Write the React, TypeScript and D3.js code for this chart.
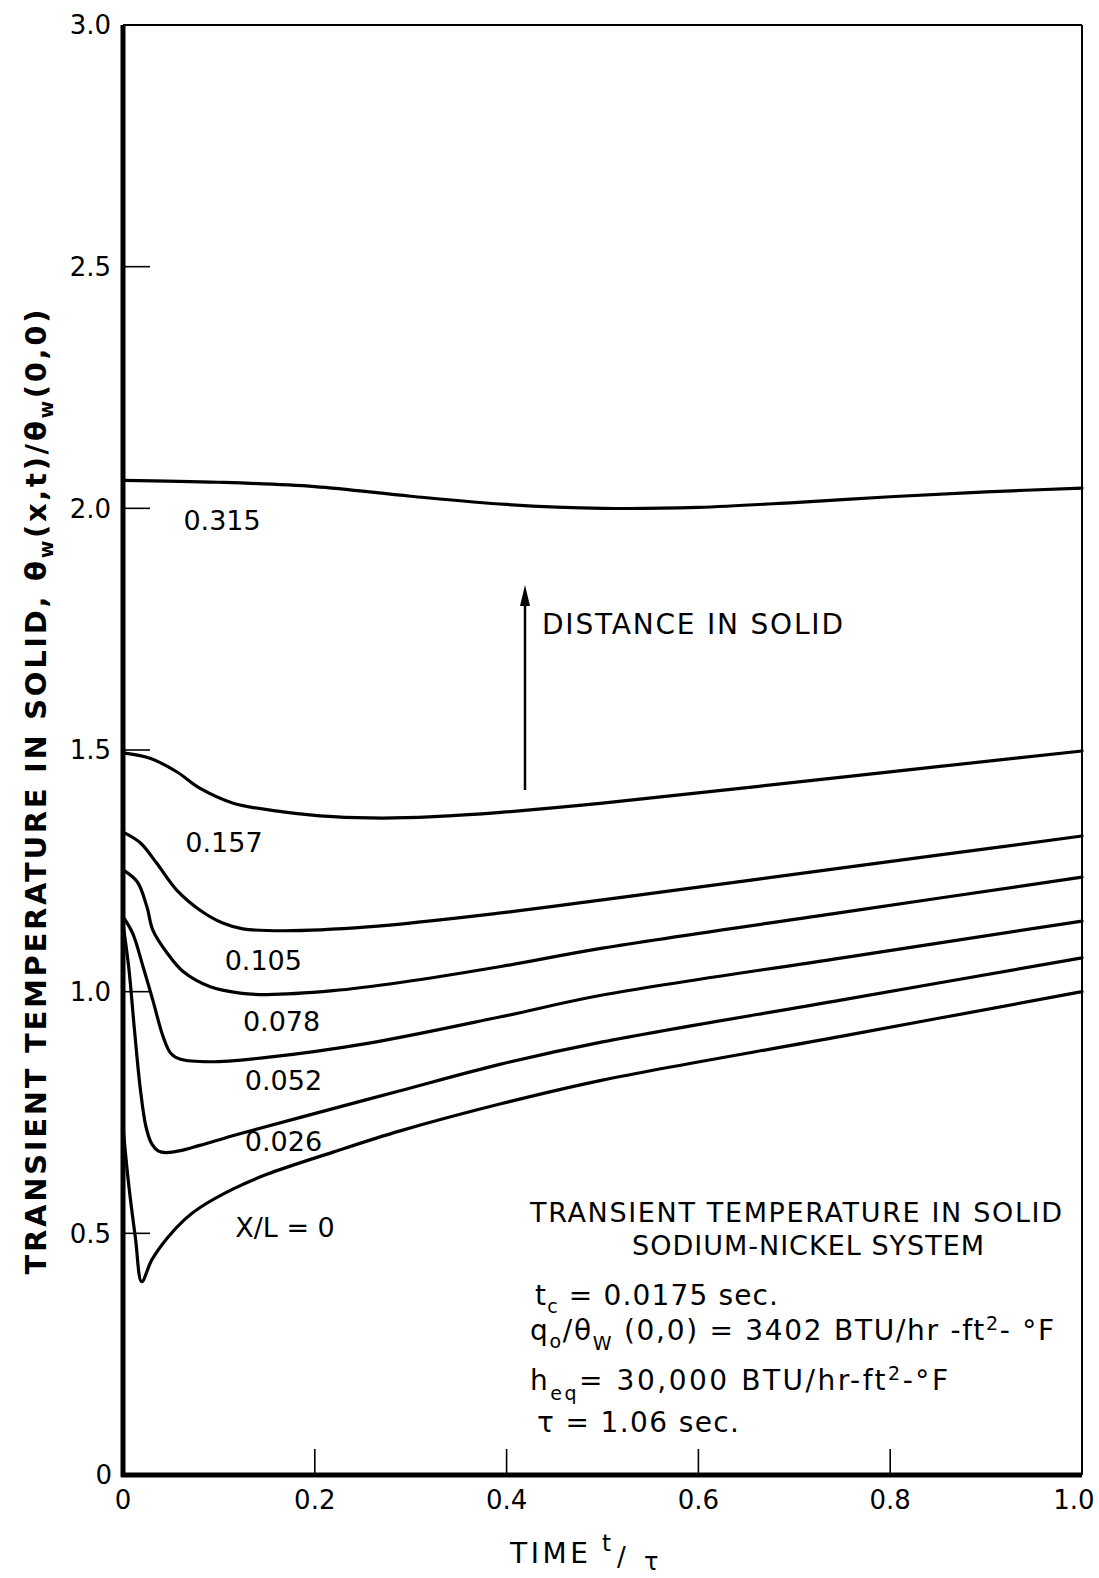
import React from "react";
import * as d3 from "d3";

// curves: [t/tau, theta_w(x,t)/theta_w(0,0)]
const curve0315: [number, number][] = [[0,2.058],[0.1,2.054],[0.2,2.045],[0.3,2.025],[0.4,2.008],[0.5,2.0],[0.6,2.002],[0.7,2.012],[0.8,2.024],[0.9,2.034],[1.0,2.042]];
const curve0157: [number, number][] = [[0,1.494],[0.028,1.483],[0.056,1.455],[0.08,1.421],[0.115,1.39],[0.167,1.372],[0.219,1.362],[0.271,1.359],[0.324,1.362],[0.394,1.371],[0.5,1.39],[0.75,1.444],[1.0,1.498]];
const curve0105: [number, number][] = [[0,1.33],[0.018,1.308],[0.035,1.266],[0.056,1.21],[0.08,1.169],[0.104,1.142],[0.125,1.13],[0.167,1.126],[0.255,1.134],[0.394,1.163],[0.5,1.19],[0.75,1.256],[1.0,1.322]];
const curve0078: [number, number][] = [[0,1.252],[0.015,1.227],[0.025,1.175],[0.031,1.128],[0.046,1.08],[0.063,1.041],[0.091,1.01],[0.122,0.997],[0.15,0.994],[0.219,1.002],[0.289,1.019],[0.394,1.052],[0.5,1.09],[0.75,1.164],[1.0,1.237]];
const curve0052: [number, number][] = [[0,1.155],[0.01,1.121],[0.021,1.051],[0.031,0.983],[0.042,0.906],[0.05,0.872],[0.06,0.86],[0.091,0.855],[0.15,0.864],[0.255,0.893],[0.394,0.948],[0.5,0.993],[0.75,1.07],[1.0,1.146]];
const curve0026: [number, number][] = [[0,1.14],[0.006,1.05],[0.012,0.92],[0.018,0.8],[0.024,0.72],[0.03,0.685],[0.037,0.67],[0.045,0.667],[0.06,0.671],[0.08,0.682],[0.12,0.705],[0.185,0.74],[0.289,0.795],[0.394,0.85],[0.5,0.896],[0.75,0.983],[1.0,1.07]];
const curve0: [number, number][] = [[0,0.72],[0.006,0.6],[0.013,0.49],[0.0195,0.4],[0.03,0.445],[0.046,0.49],[0.065,0.53],[0.08,0.553],[0.115,0.592],[0.15,0.622],[0.219,0.668],[0.289,0.712],[0.394,0.768],[0.5,0.817],[0.75,0.908],[1.0,1.0]];

const curves = [curve0315, curve0157, curve0105, curve0078, curve0052, curve0026, curve0];

// curve labels: text, t at left edge, value at baseline
const curveLabels: [string, number, number][] = [
  ["0.315", 0.063, 1.955],
  ["0.157", 0.065, 1.289],
  ["0.105", 0.106, 1.045],
  ["0.078", 0.125, 0.919],
  ["0.052", 0.127, 0.797],
  ["0.026", 0.127, 0.67],
  ["X/L = 0", 0.117, 0.492],
];

const xTicks = [0.2, 0.4, 0.6, 0.8];
const xTickLabels = [0, 0.2, 0.4, 0.6, 0.8, 1.0];
const yTicks = [0.5, 1.0, 1.5, 2.0, 2.5];
const yTickLabels = [0, 0.5, 1.0, 1.5, 2.0, 2.5, 3.0];

const W = 1099, H = 1578;
const FONT = "'DejaVu Sans', sans-serif";

export default function App() {
  const x = d3.scaleLinear().domain([0, 1]).range([123, 1082]);
  const y = d3.scaleLinear().domain([0, 3]).range([1475, 25]);
  const line = d3.line<[number, number]>()
    .x(d => x(d[0]))
    .y(d => y(d[1]))
    .curve(d3.curveCatmullRom.alpha(0.5));

  const fmt = (v: number) => (v === 0 ? "0" : v.toFixed(1));

  return (
    <svg width={W} height={H} style={{ position: "absolute", left: 0, top: 0, background: "#fff" }}
      fontFamily={FONT}>
      {/* frame */}
      <line x1={x(0)} x2={x(1)} y1={y(3)} y2={y(3)} stroke="#000" strokeWidth={2} />
      <line x1={x(1)} x2={x(1)} y1={y(3)} y2={y(0)} stroke="#000" strokeWidth={2} />
      <line x1={x(0)} x2={x(0)} y1={y(3)} y2={y(0) + 2} stroke="#000" strokeWidth={5} />
      <line x1={x(0) - 2} x2={x(1)} y1={y(0)} y2={y(0)} stroke="#000" strokeWidth={5} />

      {yTicks.map(v => (
        <line key={"yt" + v} x1={x(0)} x2={x(0) + 27} y1={y(v)} y2={y(v)} stroke="#000" strokeWidth={1.6} />
      ))}
      {xTicks.map(v => (
        <line key={"xt" + v} x1={x(v)} x2={x(v)} y1={y(0)} y2={y(0) - 26} stroke="#000" strokeWidth={1.6} />
      ))}

      {yTickLabels.map(v => (
        <text key={"yl" + v} x={v === 0 ? 112 : 111} y={y(v)} dy="0.36em" textAnchor="end" fontSize={26}>
          {fmt(v)}
        </text>
      ))}
      {xTickLabels.map(v => (
        <text key={"xl" + v} x={x(v) + (v === 1 ? -8 : 0)} y={1500} dy="0.36em" textAnchor="middle" fontSize={26}>
          {fmt(v)}
        </text>
      ))}

      {curves.map((c, i) => (
        <path key={"c" + i} d={line(c) || ""} fill="none" stroke="#000" strokeWidth={3.2}
          strokeLinejoin="round" strokeLinecap="round" />
      ))}

      {curveLabels.map(([t, tv, vv]) => (
        <text key={t} x={x(tv)} y={y(vv)} fontSize={27}>{t}</text>
      ))}

      {/* distance arrow */}
      <line x1={525} x2={525} y1={790} y2={600} stroke="#000" strokeWidth={2.5} />
      <path d="M525,585 L520,606 L530,606 Z" fill="#000" />
      <text x={542} y={634} fontSize={28} textLength={301} lengthAdjust="spacing">DISTANCE IN SOLID</text>

      {/* y title */}
      <text transform="translate(46,792) rotate(-90)" textAnchor="middle" fontSize={29} fontWeight="bold"
        textLength={965} lengthAdjust="spacing">
        TRANSIENT TEMPERATURE IN SOLID, θ<tspan dy={7} fontSize={19}>w</tspan>
        <tspan dy={-7}>(x,t)/θ</tspan><tspan dy={7} fontSize={19}>w</tspan><tspan dy={-7}>(0,0)</tspan>
      </text>

      {/* x title */}
      <text x={510} y={1563} fontSize={28} textLength={78} lengthAdjust="spacing">TIME</text>
      <text x={602} y={1551} fontSize={23}>t</text>
      <text x={617} y={1566} fontSize={26}>/</text>
      <text x={644} y={1570} fontSize={24}>τ</text>

      {/* annotation */}
      <text x={530} y={1222} fontSize={27} textLength={532} lengthAdjust="spacing">TRANSIENT TEMPERATURE IN SOLID</text>
      <text x={632} y={1255} fontSize={27} textLength={352} lengthAdjust="spacing">SODIUM-NICKEL SYSTEM</text>
      <text x={535} y={1305} fontSize={28} textLength={243} lengthAdjust="spacing">
        t<tspan dy={8} fontSize={19}>c</tspan><tspan dy={-8}>{" = 0.0175  sec."}</tspan>
      </text>
      <text x={530} y={1340} fontSize={28} textLength={524} lengthAdjust="spacing">
        q<tspan dy={8} fontSize={19}>o</tspan><tspan dy={-8}>/θ</tspan><tspan dy={10} fontSize={19}>W</tspan>
        <tspan dy={-10}>{" (0,0) = 3402  BTU/hr -ft"}</tspan><tspan dy={-10} fontSize={19}>2</tspan>
        <tspan dy={10}>{"- °F"}</tspan>
      </text>
      <text x={530} y={1390} fontSize={28} textLength={418} lengthAdjust="spacing">
        h<tspan dy={10} fontSize={19}>eq</tspan><tspan dy={-10}>{"= 30,000 BTU/hr-ft"}</tspan>
        <tspan dy={-10} fontSize={19}>2</tspan><tspan dy={10}>{"-°F"}</tspan>
      </text>
      <text x={537} y={1432} fontSize={28} textLength={202} lengthAdjust="spacing">{"τ  =  1.06 sec."}</text>
    </svg>
  );
}
